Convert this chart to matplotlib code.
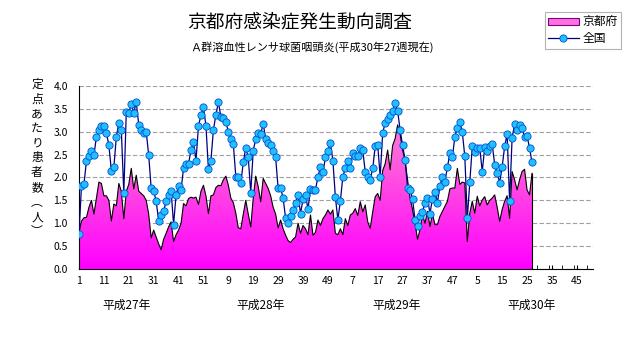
import numpy as np
import matplotlib
matplotlib.use('Agg')
import matplotlib.pyplot as plt
from matplotlib.colors import LinearSegmentedColormap
from matplotlib.patches import Patch
from matplotlib.lines import Line2D
from matplotlib.ticker import MultipleLocator, FormatStrFormatter
import matplotlib.transforms as mtransforms

plt.rcParams['font.family'] = ['Noto Sans CJK JP', 'DejaVu Sans']

# 定点あたり患者数 (京都府) 平成27年〜平成30年27週
kyoto_h27 = [0.80, 1.05, 1.12, 1.13, 1.35, 1.50, 1.20, 1.55, 1.90, 1.87,
             1.60, 1.60, 1.50, 1.05, 1.42, 1.38, 1.87, 1.70, 1.10, 1.70,
             1.85, 2.20, 1.75, 2.05, 1.70, 1.65, 1.60, 1.50, 1.20, 0.68,
             0.85, 0.70, 0.55, 0.42, 0.65, 0.78, 0.92, 1.03, 0.60, 0.75,
             0.85, 1.00, 1.43, 1.38, 1.54, 1.57, 1.55, 1.57, 1.41, 1.70,
             1.83, 1.60]
kyoto_h28 = [1.21, 1.60, 1.62, 1.78, 1.83, 1.82, 1.95, 2.03, 1.83, 1.55,
             1.45, 1.22, 0.90, 0.88, 1.20, 1.50, 1.20, 0.92, 1.55, 2.03,
             1.80, 1.47, 1.98, 1.87, 1.76, 1.60, 1.35, 1.20, 0.90, 1.07,
             0.88, 0.74, 0.62, 0.58, 0.65, 0.70, 1.00, 0.78, 0.95, 0.88,
             0.75, 1.18, 0.74, 0.80, 1.07, 0.95, 1.10, 1.18, 1.29, 1.20,
             1.29, 0.78]
kyoto_h29 = [0.75, 0.88, 0.75, 1.10, 0.95, 1.18, 1.22, 1.32, 1.17, 1.47,
             1.25, 1.40, 1.03, 0.89, 1.25, 1.58, 1.65, 1.50, 2.15, 2.30,
             2.60, 2.17, 2.70, 2.85, 3.15, 2.95, 2.60, 2.38, 1.95, 1.55,
             1.30, 1.00, 0.65, 0.86, 1.19, 1.00, 1.26, 0.93, 1.20, 0.97,
             0.97, 1.15, 1.26, 1.37, 1.48, 1.75, 1.77, 1.77, 2.20, 1.85,
             1.90, 1.88]
kyoto_h30 = [0.60, 1.22, 1.48, 1.22, 1.59, 1.38, 1.51, 1.58, 1.40, 1.50,
             1.55, 1.62, 1.35, 1.04, 1.30, 1.48, 1.60, 1.11, 2.13, 1.95,
             1.73, 1.95, 2.13, 2.18, 1.73, 1.62, 2.09]

# 全国
zenkoku_h27 = [0.76, 1.82, 1.86, 2.36, 2.46, 2.59, 2.49, 2.89, 3.03, 3.13,
               3.13, 2.97, 2.71, 2.15, 2.22, 2.89, 3.19, 3.04, 1.66, 3.43,
               3.41, 3.61, 3.41, 3.65, 3.15, 3.04, 2.98, 3.00, 2.49, 1.76,
               1.71, 1.48, 1.06, 1.19, 1.26, 1.48, 1.62, 1.71, 0.97, 1.62,
               1.82, 1.73, 2.20, 2.30, 2.30, 2.60, 2.78, 2.37, 3.13, 3.36,
               3.55, 3.13]
zenkoku_h28 = [2.18, 2.37, 3.04, 3.37, 3.65, 3.33, 3.29, 3.22, 3.00, 2.84,
               2.73, 2.02, 2.00, 1.87, 2.33, 2.65, 2.44, 1.67, 2.59, 2.84,
               2.98, 2.95, 3.18, 2.84, 2.76, 2.70, 2.57, 2.44, 1.76, 1.77,
               1.55, 1.11, 1.00, 1.15, 1.28, 1.45, 1.62, 1.21, 1.53, 1.62,
               1.31, 1.75, 1.73, 1.73, 2.02, 2.23, 2.11, 2.44, 2.59, 2.75,
               2.37, 1.57]
zenkoku_h29 = [1.08, 1.48, 2.02, 2.20, 2.35, 2.20, 2.53, 2.47, 2.46, 2.64,
               2.60, 2.12, 2.00, 1.95, 2.20, 2.68, 2.71, 2.02, 2.97, 3.20,
               3.28, 3.37, 3.46, 3.62, 3.46, 3.04, 2.70, 2.39, 1.78, 1.73,
               1.53, 1.08, 0.95, 1.16, 1.24, 1.45, 1.56, 1.21, 1.54, 1.69,
               1.45, 1.82, 2.01, 1.91, 2.22, 2.53, 2.44, 2.89, 3.09, 3.22,
               2.99, 2.46]
zenkoku_h30 = [1.11, 1.91, 2.68, 2.55, 2.64, 2.65, 2.13, 2.66, 2.59, 2.68,
               2.73, 2.28, 2.09, 1.89, 2.23, 2.68, 2.95, 1.48, 2.87, 3.16,
               3.04, 3.15, 3.08, 2.89, 2.91, 2.65, 2.33]

tick_labels = ['1', '11', '21', '31', '41', '51', '9', '19', '29', '39', '49',
               '7', '17', '27', '37', '47', '5', '15', '25', '35', '45']
year_labels = ['平成27年', '平成28年', '平成29年', '平成30年']
year_label_pos = [20, 74, 128.5, 183]

kyoto = np.array(kyoto_h27 + kyoto_h28 + kyoto_h29 + kyoto_h30)
zenkoku = np.array(zenkoku_h27 + zenkoku_h28 + zenkoku_h29 + zenkoku_h30)
weeks = np.arange(1, len(kyoto) + 1)

fig = plt.figure(figsize=(6.31, 3.47), dpi=100)
ax = fig.add_axes([79 / 631, 78 / 347, 514 / 631, 183 / 347])
ax.set_xlim(1, 207.5)
ax.set_ylim(0, 4)

# ピンクのグラデーション塗り
cmap = LinearSegmentedColormap.from_list('kpink', ['#ff00ff', '#ff50e0', '#f4a0d4'])
grad = np.linspace(0, 1, 256).reshape(-1, 1)
im = ax.imshow(grad, cmap=cmap, origin='lower', extent=[1, 207.5, 0, 4],
               aspect='auto', zorder=1, interpolation='bilinear')
poly = ax.fill_between(weeks, kyoto, 0, facecolor='none', edgecolor='none')
im.set_clip_path(poly.get_paths()[0], transform=ax.transData)
ax.plot(weeks, kyoto, color='black', lw=0.8, zorder=2)
ax.vlines(weeks[-1], 0, kyoto[-1], color='black', lw=0.8, zorder=2)

ax.plot(weeks, zenkoku, color='#000080', lw=0.9, marker='o', ms=5.2,
        mfc='#20c0ff', mec='#0050d0', mew=0.6, zorder=3)

ax.yaxis.grid(True, linestyle=(0, (4, 2)), color='#a0a0a0', lw=0.8, zorder=0)
ax.set_axisbelow(True)
for s in ['top', 'right']:
    ax.spines[s].set_visible(False)
ax.spines['left'].set_linewidth(0.8)
ax.spines['bottom'].set_linewidth(0.8)

ax.set_xticks(np.arange(1, 208, 10))
ax.set_xticklabels(tick_labels)
ax.xaxis.set_minor_locator(MultipleLocator(5))
ax.tick_params(axis='x', which='both', direction='in', length=3, labelsize=7.5, pad=5)
ax.yaxis.set_major_locator(MultipleLocator(0.5))
ax.yaxis.set_major_formatter(FormatStrFormatter('%.1f'))
ax.tick_params(axis='y', length=0, labelsize=7.5, pad=8)

trans = mtransforms.blended_transform_factory(ax.transData, ax.transAxes)
for pos, lab in zip(year_label_pos, year_labels):
    ax.text(pos, -0.197, lab, transform=trans, ha='center', va='center', fontsize=8.5)

fig.text(0.475, 1 - 22 / 347, '京都府感染症発生動向調査', ha='center', va='center', fontsize=13.5)
fig.text(0.495, 1 - 47 / 347, 'Ａ群溶血性レンサ球菌咽頭炎(平成30年27週現在)',
         ha='center', va='center', fontsize=8)

ylabel = '定点あたり患者数︵人︶'
fig.text(37 / 631, 1 - 158 / 347, '\n'.join(ylabel), ha='center', va='center',
         fontsize=8.5, linespacing=1.17)

handles = [Patch(facecolor='#ff70e0', edgecolor='#800080', lw=0.8),
           Line2D([0], [0], color='#000080', lw=0.9, marker='o', ms=5.2,
                  mfc='#20c0ff', mec='#0050d0', mew=0.6)]
leg = fig.legend(handles, ['京都府', '全国'], loc='upper right',
                 bbox_to_anchor=(627 / 631, 1 - 6 / 347), fontsize=8.5,
                 fancybox=False, edgecolor='#a0a0a0', handlelength=2.6,
                 handleheight=0.5, borderpad=0.3, labelspacing=0.3,
                 handletextpad=0.3)
leg.get_frame().set_linewidth(0.8)

fig.savefig('out.png', dpi=100)
